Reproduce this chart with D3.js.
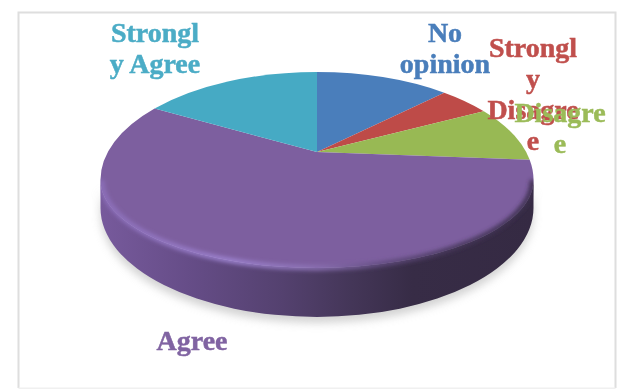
<!DOCTYPE html>
<html><head><meta charset="utf-8">
<script src="https://cdnjs.cloudflare.com/ajax/libs/d3/7.8.5/d3.min.js"></script>
<style>html,body{margin:0;padding:0;background:#fff}svg{display:block}</style></head>
<body><div id="chart"></div>
<script>
const categories = ["No opinion","Strongly Disagree","Disagree","Agree","Strongly Agree"];
const values = [10, 4, 8, 64.5, 13.5];
const colors = ["#4a7ebb","#be4b48","#98b954","#7d5f9f","#46aac4"];
const labelLines = [["No","opinion"],["Strongl","y","Disagre","e"],["Disagre","e"],["Agree"],["Strongl","y Agree"]];
const labelColors = ["#4a7ebb","#c0504d","#9bbb59","#8064a2","#4bacc6"];
const labelX = [445,533,560,192,155];
const labelY = [42,57,122,350,42];

const W=633,H=389, cx=317, cy=180, rx=216.5, ryBack=108, ryFront=88, apexY=152, baseCy=208, baseRy=109;
const svg=d3.select("#chart").append("svg").attr("width",W).attr("height",H);
const defs=svg.append("defs");
function blur(id,s){defs.append("filter").attr("id",id).attr("x","-10%").attr("y","-20%").attr("width","120%").attr("height","140%")
  .append("feGaussianBlur").attr("stdDeviation",s);}
blur("bShadow",4); blur("bRim",2); blur("bText",0.45);
const sg=defs.append("linearGradient").attr("id","side").attr("gradientUnits","userSpaceOnUse")
  .attr("x1",cx-rx).attr("x2",cx+rx).attr("y1",0).attr("y2",0);
[[0,"#775a9c"],[0.2,"#664d88"],[0.42,"#54416f"],[0.58,"#443658"],[0.72,"#372c46"],[1,"#352a43"]]
 .forEach(d=>sg.append("stop").attr("offset",d[0]).attr("stop-color",d[1]));
const rg=defs.append("linearGradient").attr("id","rim").attr("gradientUnits","userSpaceOnUse")
  .attr("x1",cx-rx).attr("x2",cx+rx).attr("y1",0).attr("y2",0);
[[0,"#8c6fba"],[0.3,"#9d83d0"],[0.5,"#8a70b2"],[0.66,"#5f4a7c"],[0.82,"#46375a"],[1,"#3c2f4e"]]
 .forEach(d=>rg.append("stop").attr("offset",d[0]).attr("stop-color",d[1]));

// elliptical rim: the back half and the front half have different depths (perspective)
const rimY=a=>{const c=Math.cos(a);return cy-(c>0?ryBack:ryFront)*c;};
const pt=a=>[cx+rx*Math.sin(a),rimY(a)];
const pie=d3.pie().sort(null).startAngle(0).endAngle(2*Math.PI);
const arcs=pie(values);
const HALF=Math.PI/2;

function rimTo(p,a0,a1){
  // walks clockwise from a0 to a1, splitting at the quadrant joints where the radius changes
  [HALF,3*HALF].filter(k=>k>a0&&k<a1).concat([a1]).forEach(k=>{
    const [x,y]=pt(k);
    const mid=(Math.cos((a0+k)/2)>0)?ryBack:ryFront;
    p.push(`A${rx},${mid} 0 0 1 ${x},${y}`); a0=k;
  });
}
function slicePath(a){
  const s=pt(a.startAngle), p=[`M${cx},${apexY}L${s[0]},${s[1]}`];
  rimTo(p,a.startAngle,a.endAngle);
  return p.join("")+"Z";
}
function basePath(){
  return `M${cx-rx},${baseCy}A${rx},${baseRy} 0 0 0 ${cx+rx},${baseCy}`;
}
function sidePath(){
  return `M${cx+rx},${cy}A${rx},${ryFront} 0 0 1 ${cx-rx},${cy}L${cx-rx},${baseCy}A${rx},${baseRy} 0 0 0 ${cx+rx},${baseCy}Z`;
}
// frame
const frame=svg.append("g").attr("fill","none").attr("stroke-width",2);
frame.append("path").attr("d","M18.5,388V12.5H615.5V388").attr("stroke","#dedede");
frame.append("path").attr("d","M18.5,388.5H615.5").attr("stroke","#f0f0f0");
// shadow
svg.append("path").attr("d",sidePath()).attr("transform","translate(0,6)")
  .attr("fill","#b5b5b5").attr("opacity",0.6).attr("filter","url(#bShadow)");
// side wall
svg.append("path").attr("d",sidePath()).attr("fill","url(#side)");
// top faces
svg.append("g").selectAll("path").data(arcs).join("path")
  .attr("d",slicePath).attr("fill",(d,i)=>colors[i]);
// bevel along the front edge
const clip=defs.append("clipPath").attr("id","bevelClip");
clip.append("path").attr("d",`M${cx-rx},${cy-12}H${cx+rx}V${cy+140}H${cx-rx}Z`);
svg.append("g").attr("clip-path","url(#bevelClip)").append("path")
  .attr("d",`M${cx+rx-1},${cy}A${rx-1},${ryFront} 0 0 1 ${cx-rx+1},${cy}`)
  .attr("fill","none").attr("stroke","url(#rim)").attr("stroke-width",5).attr("filter","url(#bRim)");
// labels
const lab=svg.append("g").attr("font-family","'Liberation Serif',serif").attr("font-weight",700)
  .attr("font-size",28).attr("text-anchor","middle").attr("filter","url(#bText)").attr("stroke-width",0.5);
lab.selectAll("text").data(categories).join("text")
  .attr("fill",(d,i)=>labelColors[i]).attr("stroke",(d,i)=>labelColors[i]).attr("data-cat",d=>d)
  .each(function(d,i){
    d3.select(this).selectAll("tspan").data(labelLines[i]).join("tspan")
      .attr("x",labelX[i]).attr("y",(t,j)=>labelY[i]+j*31).text(t=>t);
  });
</script></body></html>
